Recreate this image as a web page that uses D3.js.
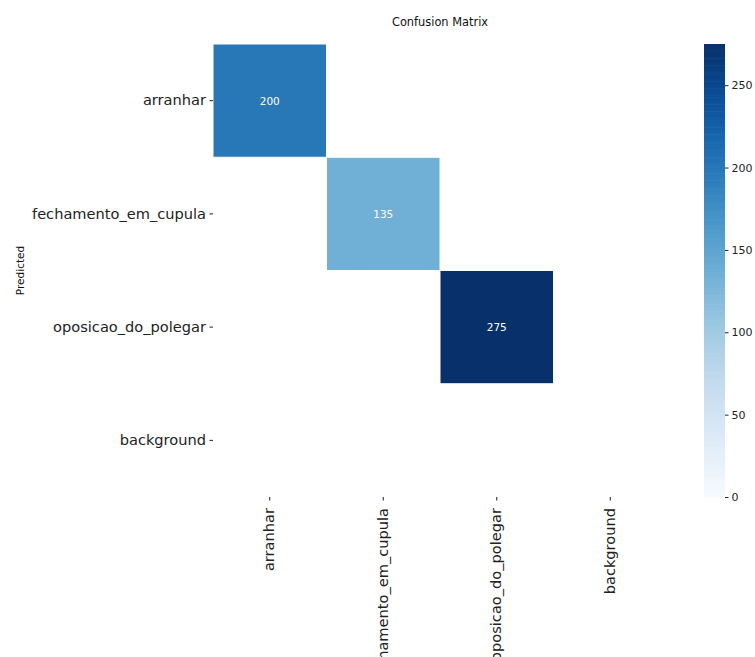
<!DOCTYPE html>
<html>
<head>
<meta charset="utf-8">
<script src="https://cdn.jsdelivr.net/npm/d3@7"></script>
<style>
  html, body { margin: 0; padding: 0; background: #fff; }
  svg { display: block; }
  svg text { font-family: "DejaVu Sans", sans-serif; }
</style>
</head>
<body>
<svg id="chart" width="755" height="657"></svg>
<script>
// Class labels (rows = predicted, columns = true)
const predictedLabels = ["arranhar", "fechamento_em_cupula", "oposicao_do_polegar", "background"];
const trueLabels = ["arranhar", "fechamento_em_cupula", "oposicao_do_polegar", "background"];
// Counts per row; zero cells are left blank
const rowArranhar = [200, 0, 0, 0];
const rowFechamento = [0, 135, 0, 0];
const rowOposicao = [0, 0, 275, 0];
const rowBackground = [0, 0, 0, 0];
const matrix = [rowArranhar, rowFechamento, rowOposicao, rowBackground];
const colorbarTicks = [0, 50, 100, 150, 200, 250];
const colorMax = 275;

const FONT = "DejaVu Sans, sans-serif";
const svg = d3.select("#chart");

const plotLeft = 213, plotRight = 667, plotTop = 44, plotBottom = 497;

const x = d3.scaleBand().domain(trueLabels).range([plotLeft, plotRight]);
const y = d3.scaleBand().domain(predictedLabels).range([plotTop, plotBottom]);
const color = d3.scaleSequential(d3.interpolateBlues).domain([0, colorMax]);

// Cells
const cells = [];
matrix.forEach((row, i) => row.forEach((v, j) => {
  cells.push({ r: predictedLabels[i], c: trueLabels[j], v });
}));
const nonZero = cells.filter(d => d.v > 0);

svg.append("g").selectAll("rect")
  .data(nonZero).join("rect")
  .attr("x", d => x(d.c))
  .attr("y", d => y(d.r))
  .attr("width", x.bandwidth())
  .attr("height", y.bandwidth())
  .attr("fill", d => color(d.v))
  .attr("stroke", "#fff")
  .attr("stroke-width", 1);

svg.append("g").selectAll("text")
  .data(nonZero).join("text")
  .attr("x", d => x(d.c) + x.bandwidth() / 2)
  .attr("y", d => y(d.r) + y.bandwidth() / 2)
  .attr("text-anchor", "middle")
  .attr("dominant-baseline", "central")
  .attr("font-size", 10.5)
  .attr("fill", "#fff")
  .text(d => d.v);

// Axes
const yAxis = svg.append("g")
  .attr("transform", `translate(${plotLeft},0)`)
  .call(d3.axisLeft(y).tickSize(3.5).tickPadding(3.5))
  .attr("font-family", FONT);
yAxis.select(".domain").remove();
yAxis.selectAll("text").attr("font-size", 14.6).attr("fill", "#222");
yAxis.selectAll("line").attr("stroke", "#222");

const xAxis = svg.append("g")
  .attr("transform", `translate(0,${plotBottom})`)
  .call(d3.axisBottom(x).tickSize(3.5).tickPadding(3))
  .attr("font-family", FONT);
xAxis.select(".domain").remove();
xAxis.selectAll("line").attr("stroke", "#222");
xAxis.selectAll("text")
  .attr("font-size", 14.6)
  .attr("fill", "#222")
  .attr("transform", "rotate(-90)")
  .attr("text-anchor", "end")
  .attr("dy", "0.32em")
  .attr("x", -11)
  .attr("y", 0);

// Title and axis label
svg.append("text")
  .attr("x", 440).attr("y", 25.5)
  .attr("text-anchor", "middle")
  .attr("font-size", 11.4)
  .attr("fill", "#111")
  .text("Confusion Matrix");

svg.append("text")
  .attr("transform", `translate(24,${(plotTop + plotBottom) / 2}) rotate(-90)`)
  .attr("text-anchor", "middle")
  .attr("font-size", 10.5)
  .attr("fill", "#111")
  .text("Predicted");

// Colorbar
const cbX = 704, cbW = 21;
const cbScale = d3.scaleLinear().domain([0, colorMax]).range([plotBottom, plotTop]);
const step = colorMax / 256;
const steps = d3.range(0, colorMax, step);
svg.append("g").selectAll("rect")
  .data(steps).join("rect")
  .attr("x", cbX)
  .attr("y", d => cbScale(d + step))
  .attr("width", cbW)
  .attr("height", d => cbScale(d) - cbScale(d + step) + 0.6)
  .attr("fill", d => color(d + step / 2));

const cbAxis = svg.append("g")
  .attr("transform", `translate(${cbX + cbW},0)`)
  .call(d3.axisRight(cbScale).tickValues(colorbarTicks).tickSize(3.5).tickPadding(3))
  .attr("font-family", FONT);
cbAxis.select(".domain").remove();
cbAxis.selectAll("text").attr("font-size", 11).attr("fill", "#222");
cbAxis.selectAll("line").attr("stroke", "#222");
</script>
</body>
</html>
